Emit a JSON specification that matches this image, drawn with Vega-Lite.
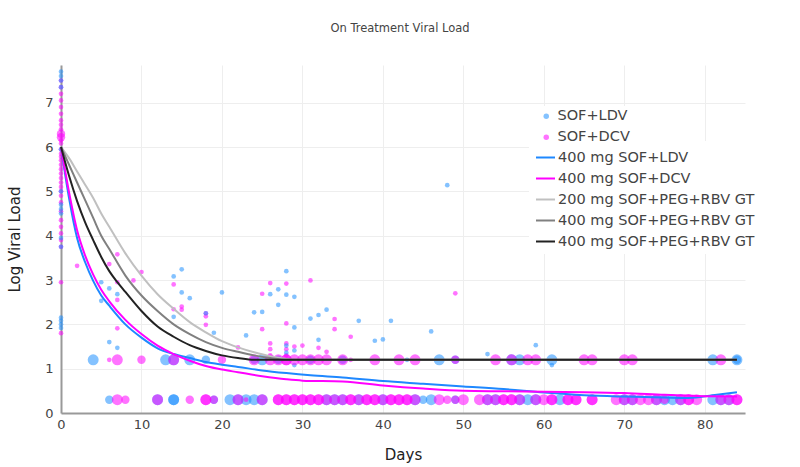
{
  "$schema": "https://vega.github.io/schema/vega-lite/v6.json",
  "width": 684,
  "height": 348,
  "autosize": {"type": "none"},
  "padding": {"left": 61, "top": 65, "right": 55, "bottom": 54},
  "background": "white",
  "title": {"text": "On Treatment Viral Load", "fontSize": 11.5, "fontWeight": "normal", "color": "#444", "font": "DejaVu Sans", "anchor": "middle", "offset": 31, "dx": -3},
  "config": {
    "view": {"stroke": null},
    "font": "DejaVu Sans",
    "axis": {"gridColor": "#eeeeee", "gridWidth": 1, "domainColor": "#999999", "domainWidth": 2, "ticks": false, "labelFlush": false, "labelFont": "DejaVu Sans", "labelFontSize": 13, "labelColor": "#444", "titleFont": "DejaVu Sans", "titleFontSize": 15, "titleFontWeight": "normal", "titleColor": "#222"},
    "legend": {"labelFont": "DejaVu Sans", "labelFontSize": 14.5, "labelColor": "#444"}
  },
  "datasets": {
    "pts": [
      {"g":"SOF+DCV","d":0,"v":7.5,"n":1},{"g":"SOF+DCV","d":0,"v":7.35,"n":1},{"g":"SOF+DCV","d":0,"v":7.2,"n":1},{"g":"SOF+DCV","d":0,"v":7.05,"n":1},{"g":"SOF+DCV","d":0,"v":6.9,"n":1},{"g":"SOF+DCV","d":0,"v":6.75,"n":1},{"g":"SOF+DCV","d":0,"v":6.6,"n":1},{"g":"SOF+DCV","d":0,"v":6.5,"n":1},{"g":"SOF+DCV","d":0,"v":6.4,"n":1},{"g":"SOF+DCV","d":0,"v":6.3,"n":2},{"g":"SOF+DCV","d":0,"v":6.22,"n":2},{"g":"SOF+DCV","d":0,"v":6.15,"n":1},{"g":"SOF+DCV","d":0,"v":6.08,"n":1},{"g":"SOF+DCV","d":0,"v":5.95,"n":1},{"g":"SOF+DCV","d":0,"v":5.85,"n":1},{"g":"SOF+DCV","d":0,"v":5.78,"n":1},{"g":"SOF+DCV","d":0,"v":5.7,"n":1},{"g":"SOF+DCV","d":0,"v":5.6,"n":1},{"g":"SOF+DCV","d":0,"v":5.5,"n":1},{"g":"SOF+DCV","d":0,"v":5.4,"n":1},{"g":"SOF+DCV","d":0,"v":5.3,"n":1},{"g":"SOF+DCV","d":0,"v":5.2,"n":1},{"g":"SOF+DCV","d":0,"v":5.1,"n":1},{"g":"SOF+DCV","d":0,"v":5.0,"n":1},{"g":"SOF+DCV","d":0,"v":4.9,"n":1},{"g":"SOF+DCV","d":0,"v":4.75,"n":1},{"g":"SOF+DCV","d":0,"v":4.55,"n":1},{"g":"SOF+DCV","d":0,"v":4.35,"n":1},{"g":"SOF+DCV","d":0,"v":4.2,"n":1},{"g":"SOF+DCV","d":0,"v":4.05,"n":1},{"g":"SOF+DCV","d":0,"v":3.9,"n":1},{"g":"SOF+DCV","d":0,"v":3.75,"n":1},{"g":"SOF+DCV","d":0,"v":2.95,"n":1},{"g":"SOF+DCV","d":0,"v":1.8,"n":1},
      {"g":"SOF+LDV","d":0,"v":7.7,"n":1},{"g":"SOF+LDV","d":0,"v":7.6,"n":1},{"g":"SOF+LDV","d":0,"v":7.5,"n":1},{"g":"SOF+LDV","d":0,"v":7.35,"n":1},{"g":"SOF+LDV","d":0,"v":5.95,"n":1},{"g":"SOF+LDV","d":0,"v":5.0,"n":1},{"g":"SOF+LDV","d":0,"v":4.7,"n":1},{"g":"SOF+LDV","d":0,"v":4.6,"n":1},{"g":"SOF+LDV","d":0,"v":4.5,"n":1},{"g":"SOF+LDV","d":0,"v":3.95,"n":1},{"g":"SOF+LDV","d":0,"v":3.75,"n":1},{"g":"SOF+LDV","d":0,"v":2.15,"n":1},{"g":"SOF+LDV","d":0,"v":2.08,"n":1},{"g":"SOF+LDV","d":0,"v":2.0,"n":1},{"g":"SOF+LDV","d":0,"v":1.92,"n":1},
      {"g":"SOF+DCV","d":2,"v":3.32,"n":1},{"g":"SOF+DCV","d":6,"v":3.36,"n":1},{"g":"SOF+DCV","d":7,"v":3.58,"n":1},{"g":"SOF+DCV","d":7,"v":2.95,"n":1},{"g":"SOF+DCV","d":7,"v":2.55,"n":1},{"g":"SOF+DCV","d":7,"v":1.91,"n":1},{"g":"SOF+DCV","d":9,"v":2.99,"n":1},{"g":"SOF+DCV","d":10,"v":3.18,"n":1},{"g":"SOF+DCV","d":14,"v":2.9,"n":1},{"g":"SOF+DCV","d":14,"v":2.34,"n":1},{"g":"SOF+DCV","d":15,"v":2.4,"n":1},{"g":"SOF+DCV","d":15,"v":2.33,"n":1},{"g":"SOF+DCV","d":18,"v":2.25,"n":1},{"g":"SOF+DCV","d":18,"v":2.18,"n":1},{"g":"SOF+DCV","d":18,"v":1.99,"n":1},{"g":"SOF+DCV","d":22,"v":1.48,"n":1},{"g":"SOF+DCV","d":25,"v":2.69,"n":1},{"g":"SOF+DCV","d":25,"v":1.89,"n":1},{"g":"SOF+DCV","d":26,"v":2.93,"n":1},{"g":"SOF+DCV","d":26,"v":1.57,"n":1},{"g":"SOF+DCV","d":26,"v":1.44,"n":1},{"g":"SOF+DCV","d":26,"v":1.3,"n":1},{"g":"SOF+DCV","d":28,"v":2.92,"n":1},{"g":"SOF+DCV","d":28,"v":2.02,"n":1},{"g":"SOF+DCV","d":28,"v":1.57,"n":1},{"g":"SOF+DCV","d":28,"v":1.44,"n":1},{"g":"SOF+DCV","d":28,"v":1.3,"n":1},{"g":"SOF+DCV","d":29,"v":1.5,"n":1},{"g":"SOF+DCV","d":30,"v":1.52,"n":1},{"g":"SOF+DCV","d":31,"v":2.99,"n":1},{"g":"SOF+DCV","d":32,"v":1.47,"n":1},{"g":"SOF+DCV","d":33,"v":1.38,"n":1},{"g":"SOF+DCV","d":34,"v":2.12,"n":1},{"g":"SOF+DCV","d":34,"v":1.89,"n":1},{"g":"SOF+DCV","d":36,"v":1.72,"n":1},{"g":"SOF+DCV","d":49,"v":2.7,"n":1},
      {"g":"SOF+LDV","d":5,"v":2.95,"n":1},{"g":"SOF+LDV","d":5,"v":2.53,"n":1},{"g":"SOF+LDV","d":6,"v":2.81,"n":1},{"g":"SOF+LDV","d":6,"v":1.6,"n":1},{"g":"SOF+LDV","d":7,"v":2.68,"n":1},{"g":"SOF+LDV","d":7,"v":1.47,"n":1},{"g":"SOF+LDV","d":14,"v":3.08,"n":1},{"g":"SOF+LDV","d":14,"v":2.17,"n":1},{"g":"SOF+LDV","d":15,"v":3.24,"n":1},{"g":"SOF+LDV","d":15,"v":2.72,"n":1},{"g":"SOF+LDV","d":16,"v":2.59,"n":1},{"g":"SOF+LDV","d":18,"v":2.25,"n":1},{"g":"SOF+LDV","d":19,"v":1.81,"n":1},{"g":"SOF+LDV","d":20,"v":2.72,"n":1},{"g":"SOF+LDV","d":23,"v":1.75,"n":1},{"g":"SOF+LDV","d":24,"v":2.27,"n":1},{"g":"SOF+LDV","d":25,"v":2.28,"n":1},{"g":"SOF+LDV","d":26,"v":2.68,"n":1},{"g":"SOF+LDV","d":27,"v":2.79,"n":1},{"g":"SOF+LDV","d":27,"v":2.44,"n":1},{"g":"SOF+LDV","d":28,"v":3.2,"n":1},{"g":"SOF+LDV","d":28,"v":2.67,"n":1},{"g":"SOF+LDV","d":28,"v":1.52,"n":1},{"g":"SOF+LDV","d":28,"v":1.36,"n":1},{"g":"SOF+LDV","d":29,"v":2.62,"n":1},{"g":"SOF+LDV","d":29,"v":1.93,"n":1},{"g":"SOF+LDV","d":29,"v":1.41,"n":1},{"g":"SOF+LDV","d":29,"v":1.08,"n":1},{"g":"SOF+LDV","d":31,"v":2.13,"n":1},{"g":"SOF+LDV","d":32,"v":2.21,"n":1},{"g":"SOF+LDV","d":32,"v":1.65,"n":1},{"g":"SOF+LDV","d":33,"v":2.33,"n":1},{"g":"SOF+LDV","d":37,"v":2.08,"n":1},{"g":"SOF+LDV","d":39,"v":1.63,"n":1},{"g":"SOF+LDV","d":40,"v":1.66,"n":1},{"g":"SOF+LDV","d":41,"v":2.08,"n":1},{"g":"SOF+LDV","d":46,"v":1.84,"n":1},{"g":"SOF+LDV","d":48,"v":5.14,"n":1},{"g":"SOF+LDV","d":53,"v":1.33,"n":1},{"g":"SOF+LDV","d":59,"v":1.53,"n":1},{"g":"SOF+LDV","d":61,"v":1.08,"n":1},
      {"g":"SOF+LDV","d":4,"v":1.2,"n":3},{"g":"SOF+LDV","d":13,"v":1.2,"n":3},{"g":"SOF+LDV","d":14,"v":1.2,"n":3},{"g":"SOF+LDV","d":16,"v":1.2,"n":3},{"g":"SOF+LDV","d":18,"v":1.2,"n":2},{"g":"SOF+LDV","d":24,"v":1.2,"n":2},{"g":"SOF+LDV","d":25,"v":1.2,"n":3},{"g":"SOF+LDV","d":27,"v":1.2,"n":2},{"g":"SOF+LDV","d":31,"v":1.2,"n":2},{"g":"SOF+LDV","d":35,"v":1.2,"n":2},{"g":"SOF+LDV","d":43,"v":1.2,"n":1},{"g":"SOF+LDV","d":47,"v":1.2,"n":3},{"g":"SOF+LDV","d":49,"v":1.2,"n":2},{"g":"SOF+LDV","d":56,"v":1.2,"n":3},{"g":"SOF+LDV","d":57,"v":1.2,"n":3},{"g":"SOF+LDV","d":61,"v":1.2,"n":3},{"g":"SOF+LDV","d":81,"v":1.2,"n":3},{"g":"SOF+LDV","d":84,"v":1.2,"n":3},{"g":"SOF+LDV","d":84,"v":1.2,"n":2},
      {"g":"SOF+DCV","d":6,"v":1.2,"n":1},{"g":"SOF+DCV","d":7,"v":1.2,"n":3},{"g":"SOF+DCV","d":10,"v":1.2,"n":2},{"g":"SOF+DCV","d":14,"v":1.2,"n":3},{"g":"SOF+DCV","d":20,"v":1.2,"n":2},{"g":"SOF+DCV","d":24,"v":1.2,"n":3},{"g":"SOF+DCV","d":26,"v":1.2,"n":3},{"g":"SOF+DCV","d":27,"v":1.2,"n":3},{"g":"SOF+DCV","d":28,"v":1.2,"n":3},{"g":"SOF+DCV","d":28,"v":1.2,"n":3},{"g":"SOF+DCV","d":29,"v":1.2,"n":3},{"g":"SOF+DCV","d":30,"v":1.2,"n":3},{"g":"SOF+DCV","d":31,"v":1.2,"n":3},{"g":"SOF+DCV","d":32,"v":1.2,"n":3},{"g":"SOF+DCV","d":33,"v":1.2,"n":3},{"g":"SOF+DCV","d":35,"v":1.2,"n":3},{"g":"SOF+DCV","d":36,"v":1.2,"n":1},{"g":"SOF+DCV","d":39,"v":1.2,"n":3},{"g":"SOF+DCV","d":42,"v":1.2,"n":3},{"g":"SOF+DCV","d":44,"v":1.2,"n":3},{"g":"SOF+DCV","d":49,"v":1.2,"n":2},{"g":"SOF+DCV","d":54,"v":1.2,"n":3},{"g":"SOF+DCV","d":56,"v":1.2,"n":3},{"g":"SOF+DCV","d":58,"v":1.2,"n":3},{"g":"SOF+DCV","d":59,"v":1.2,"n":3},{"g":"SOF+DCV","d":65,"v":1.2,"n":3},{"g":"SOF+DCV","d":66,"v":1.2,"n":3},{"g":"SOF+DCV","d":70,"v":1.2,"n":3},{"g":"SOF+DCV","d":71,"v":1.2,"n":3},{"g":"SOF+DCV","d":82,"v":1.2,"n":3},
      {"g":"SOF+LDV","d":6,"v":0.3,"n":2},{"g":"SOF+LDV","d":12,"v":0.3,"n":3},{"g":"SOF+LDV","d":14,"v":0.3,"n":3},{"g":"SOF+LDV","d":14,"v":0.3,"n":3},{"g":"SOF+LDV","d":19,"v":0.3,"n":2},{"g":"SOF+LDV","d":21,"v":0.3,"n":3},{"g":"SOF+LDV","d":22,"v":0.3,"n":3},{"g":"SOF+LDV","d":23,"v":0.3,"n":3},{"g":"SOF+LDV","d":24,"v":0.3,"n":3},{"g":"SOF+LDV","d":25,"v":0.3,"n":3},{"g":"SOF+LDV","d":33,"v":0.3,"n":3},{"g":"SOF+LDV","d":34,"v":0.3,"n":3},{"g":"SOF+LDV","d":35,"v":0.3,"n":3},{"g":"SOF+LDV","d":37,"v":0.3,"n":3},{"g":"SOF+LDV","d":40,"v":0.3,"n":3},{"g":"SOF+LDV","d":44,"v":0.3,"n":3},{"g":"SOF+LDV","d":45,"v":0.3,"n":2},{"g":"SOF+LDV","d":46,"v":0.3,"n":3},{"g":"SOF+LDV","d":49,"v":0.3,"n":2},{"g":"SOF+LDV","d":53,"v":0.3,"n":3},{"g":"SOF+LDV","d":54,"v":0.3,"n":3},{"g":"SOF+LDV","d":57,"v":0.3,"n":3},{"g":"SOF+LDV","d":58,"v":0.3,"n":3},{"g":"SOF+LDV","d":59,"v":0.3,"n":3},{"g":"SOF+LDV","d":62,"v":0.3,"n":3},{"g":"SOF+LDV","d":70,"v":0.3,"n":3},{"g":"SOF+LDV","d":71,"v":0.3,"n":3},{"g":"SOF+LDV","d":74,"v":0.3,"n":3},{"g":"SOF+LDV","d":75,"v":0.3,"n":3},{"g":"SOF+LDV","d":76,"v":0.3,"n":3},{"g":"SOF+LDV","d":77,"v":0.3,"n":3},{"g":"SOF+LDV","d":81,"v":0.3,"n":3},{"g":"SOF+LDV","d":82,"v":0.3,"n":3},{"g":"SOF+LDV","d":83,"v":0.3,"n":3},
      {"g":"SOF+DCV","d":7,"v":0.3,"n":3},{"g":"SOF+DCV","d":8,"v":0.3,"n":2},{"g":"SOF+DCV","d":12,"v":0.3,"n":3},{"g":"SOF+DCV","d":16,"v":0.3,"n":2},{"g":"SOF+DCV","d":18,"v":0.3,"n":3},{"g":"SOF+DCV","d":18,"v":0.3,"n":3},{"g":"SOF+DCV","d":19,"v":0.3,"n":2},{"g":"SOF+DCV","d":22,"v":0.3,"n":3},{"g":"SOF+DCV","d":23,"v":0.3,"n":1},{"g":"SOF+DCV","d":25,"v":0.3,"n":3},{"g":"SOF+DCV","d":27,"v":0.3,"n":3},{"g":"SOF+DCV","d":27,"v":0.3,"n":3},{"g":"SOF+DCV","d":28,"v":0.3,"n":3},{"g":"SOF+DCV","d":28,"v":0.3,"n":3},{"g":"SOF+DCV","d":29,"v":0.3,"n":3},{"g":"SOF+DCV","d":29,"v":0.3,"n":3},{"g":"SOF+DCV","d":30,"v":0.3,"n":3},{"g":"SOF+DCV","d":30,"v":0.3,"n":3},{"g":"SOF+DCV","d":31,"v":0.3,"n":3},{"g":"SOF+DCV","d":31,"v":0.3,"n":3},{"g":"SOF+DCV","d":32,"v":0.3,"n":3},{"g":"SOF+DCV","d":32,"v":0.3,"n":3},{"g":"SOF+DCV","d":33,"v":0.3,"n":3},{"g":"SOF+DCV","d":34,"v":0.3,"n":3},{"g":"SOF+DCV","d":35,"v":0.3,"n":3},{"g":"SOF+DCV","d":36,"v":0.3,"n":3},{"g":"SOF+DCV","d":36,"v":0.3,"n":3},{"g":"SOF+DCV","d":37,"v":0.3,"n":3},{"g":"SOF+DCV","d":38,"v":0.3,"n":3},{"g":"SOF+DCV","d":38,"v":0.3,"n":3},{"g":"SOF+DCV","d":39,"v":0.3,"n":3},{"g":"SOF+DCV","d":39,"v":0.3,"n":3},{"g":"SOF+DCV","d":40,"v":0.3,"n":3},{"g":"SOF+DCV","d":41,"v":0.3,"n":3},{"g":"SOF+DCV","d":41,"v":0.3,"n":3},{"g":"SOF+DCV","d":42,"v":0.3,"n":3},{"g":"SOF+DCV","d":42,"v":0.3,"n":3},{"g":"SOF+DCV","d":43,"v":0.3,"n":3},{"g":"SOF+DCV","d":43,"v":0.3,"n":3},{"g":"SOF+DCV","d":44,"v":0.3,"n":3},{"g":"SOF+DCV","d":47,"v":0.3,"n":3},{"g":"SOF+DCV","d":48,"v":0.3,"n":2},{"g":"SOF+DCV","d":49,"v":0.3,"n":2},{"g":"SOF+DCV","d":50,"v":0.3,"n":3},{"g":"SOF+DCV","d":52,"v":0.3,"n":3},{"g":"SOF+DCV","d":53,"v":0.3,"n":3},{"g":"SOF+DCV","d":54,"v":0.3,"n":3},{"g":"SOF+DCV","d":55,"v":0.3,"n":3},{"g":"SOF+DCV","d":55,"v":0.3,"n":3},{"g":"SOF+DCV","d":56,"v":0.3,"n":3},{"g":"SOF+DCV","d":56,"v":0.3,"n":3},{"g":"SOF+DCV","d":57,"v":0.3,"n":3},{"g":"SOF+DCV","d":59,"v":0.3,"n":3},{"g":"SOF+DCV","d":60,"v":0.3,"n":3},{"g":"SOF+DCV","d":61,"v":0.3,"n":3},{"g":"SOF+DCV","d":61,"v":0.3,"n":3},{"g":"SOF+DCV","d":63,"v":0.3,"n":3},{"g":"SOF+DCV","d":63,"v":0.3,"n":3},{"g":"SOF+DCV","d":64,"v":0.3,"n":3},{"g":"SOF+DCV","d":64,"v":0.3,"n":3},{"g":"SOF+DCV","d":66,"v":0.3,"n":3},{"g":"SOF+DCV","d":66,"v":0.3,"n":3},{"g":"SOF+DCV","d":69,"v":0.3,"n":3},{"g":"SOF+DCV","d":70,"v":0.3,"n":3},{"g":"SOF+DCV","d":71,"v":0.3,"n":3},{"g":"SOF+DCV","d":72,"v":0.3,"n":3},{"g":"SOF+DCV","d":73,"v":0.3,"n":3},{"g":"SOF+DCV","d":74,"v":0.3,"n":3},{"g":"SOF+DCV","d":75,"v":0.3,"n":2},{"g":"SOF+DCV","d":77,"v":0.3,"n":3},{"g":"SOF+DCV","d":78,"v":0.3,"n":3},{"g":"SOF+DCV","d":78,"v":0.3,"n":3},{"g":"SOF+DCV","d":79,"v":0.3,"n":3},{"g":"SOF+DCV","d":82,"v":0.3,"n":3},{"g":"SOF+DCV","d":83,"v":0.3,"n":3},{"g":"SOF+DCV","d":84,"v":0.3,"n":3},{"g":"SOF+DCV","d":84,"v":0.3,"n":3}
    ],
    "lines": [
      {"s":"400 mg SOF+LDV","d":0,"v":6.0},{"s":"400 mg SOF+LDV","d":1,"v":4.85},{"s":"400 mg SOF+LDV","d":2,"v":3.95},{"s":"400 mg SOF+LDV","d":3,"v":3.4},{"s":"400 mg SOF+LDV","d":4,"v":2.98},{"s":"400 mg SOF+LDV","d":5,"v":2.65},{"s":"400 mg SOF+LDV","d":6,"v":2.42},{"s":"400 mg SOF+LDV","d":8,"v":2.0},{"s":"400 mg SOF+LDV","d":10,"v":1.7},{"s":"400 mg SOF+LDV","d":12,"v":1.46},{"s":"400 mg SOF+LDV","d":14,"v":1.33},{"s":"400 mg SOF+LDV","d":16,"v":1.24},{"s":"400 mg SOF+LDV","d":18,"v":1.15},{"s":"400 mg SOF+LDV","d":20,"v":1.09},{"s":"400 mg SOF+LDV","d":22,"v":1.04},{"s":"400 mg SOF+LDV","d":25,"v":0.96},{"s":"400 mg SOF+LDV","d":28,"v":0.9},{"s":"400 mg SOF+LDV","d":31,"v":0.85},{"s":"400 mg SOF+LDV","d":35,"v":0.8},{"s":"400 mg SOF+LDV","d":40,"v":0.72},{"s":"400 mg SOF+LDV","d":45,"v":0.66},{"s":"400 mg SOF+LDV","d":50,"v":0.6},{"s":"400 mg SOF+LDV","d":55,"v":0.54},{"s":"400 mg SOF+LDV","d":60,"v":0.46},{"s":"400 mg SOF+LDV","d":65,"v":0.4},{"s":"400 mg SOF+LDV","d":70,"v":0.37},{"s":"400 mg SOF+LDV","d":75,"v":0.35},{"s":"400 mg SOF+LDV","d":78,"v":0.34},{"s":"400 mg SOF+LDV","d":81,"v":0.4},{"s":"400 mg SOF+LDV","d":84,"v":0.47},
      {"s":"400 mg SOF+DCV","d":0,"v":6.0},{"s":"400 mg SOF+DCV","d":1,"v":4.98},{"s":"400 mg SOF+DCV","d":2,"v":4.12},{"s":"400 mg SOF+DCV","d":3,"v":3.55},{"s":"400 mg SOF+DCV","d":4,"v":3.12},{"s":"400 mg SOF+DCV","d":5,"v":2.78},{"s":"400 mg SOF+DCV","d":6,"v":2.52},{"s":"400 mg SOF+DCV","d":8,"v":2.1},{"s":"400 mg SOF+DCV","d":10,"v":1.78},{"s":"400 mg SOF+DCV","d":12,"v":1.52},{"s":"400 mg SOF+DCV","d":14,"v":1.33},{"s":"400 mg SOF+DCV","d":16,"v":1.18},{"s":"400 mg SOF+DCV","d":18,"v":1.06},{"s":"400 mg SOF+DCV","d":20,"v":0.98},{"s":"400 mg SOF+DCV","d":22,"v":0.92},{"s":"400 mg SOF+DCV","d":25,"v":0.83},{"s":"400 mg SOF+DCV","d":28,"v":0.76},{"s":"400 mg SOF+DCV","d":30,"v":0.73},{"s":"400 mg SOF+DCV","d":35,"v":0.71},{"s":"400 mg SOF+DCV","d":40,"v":0.62},{"s":"400 mg SOF+DCV","d":45,"v":0.55},{"s":"400 mg SOF+DCV","d":50,"v":0.5},{"s":"400 mg SOF+DCV","d":55,"v":0.49},{"s":"400 mg SOF+DCV","d":60,"v":0.48},{"s":"400 mg SOF+DCV","d":65,"v":0.47},{"s":"400 mg SOF+DCV","d":70,"v":0.45},{"s":"400 mg SOF+DCV","d":75,"v":0.41},{"s":"400 mg SOF+DCV","d":80,"v":0.38},{"s":"400 mg SOF+DCV","d":84,"v":0.37},
      {"s":"200 mg SOF+PEG+RBV GT1","d":0,"v":6.0},{"s":"200 mg SOF+PEG+RBV GT1","d":1,"v":5.75},{"s":"200 mg SOF+PEG+RBV GT1","d":2,"v":5.45},{"s":"200 mg SOF+PEG+RBV GT1","d":3,"v":5.15},{"s":"200 mg SOF+PEG+RBV GT1","d":4,"v":4.85},{"s":"200 mg SOF+PEG+RBV GT1","d":5,"v":4.5},{"s":"200 mg SOF+PEG+RBV GT1","d":6,"v":4.2},{"s":"200 mg SOF+PEG+RBV GT1","d":8,"v":3.6},{"s":"200 mg SOF+PEG+RBV GT1","d":10,"v":3.1},{"s":"200 mg SOF+PEG+RBV GT1","d":12,"v":2.68},{"s":"200 mg SOF+PEG+RBV GT1","d":14,"v":2.35},{"s":"200 mg SOF+PEG+RBV GT1","d":16,"v":2.05},{"s":"200 mg SOF+PEG+RBV GT1","d":18,"v":1.82},{"s":"200 mg SOF+PEG+RBV GT1","d":20,"v":1.62},{"s":"200 mg SOF+PEG+RBV GT1","d":22,"v":1.48},{"s":"200 mg SOF+PEG+RBV GT1","d":24,"v":1.37},{"s":"200 mg SOF+PEG+RBV GT1","d":26,"v":1.28},{"s":"200 mg SOF+PEG+RBV GT1","d":28,"v":1.22},{"s":"200 mg SOF+PEG+RBV GT1","d":29,"v":1.2},{"s":"200 mg SOF+PEG+RBV GT1","d":40,"v":1.2},{"s":"200 mg SOF+PEG+RBV GT1","d":60,"v":1.2},{"s":"200 mg SOF+PEG+RBV GT1","d":84,"v":1.2},
      {"s":"400 mg SOF+PEG+RBV GT1","d":0,"v":6.0},{"s":"400 mg SOF+PEG+RBV GT1","d":1,"v":5.6},{"s":"400 mg SOF+PEG+RBV GT1","d":2,"v":5.2},{"s":"400 mg SOF+PEG+RBV GT1","d":3,"v":4.8},{"s":"400 mg SOF+PEG+RBV GT1","d":4,"v":4.4},{"s":"400 mg SOF+PEG+RBV GT1","d":5,"v":4.0},{"s":"400 mg SOF+PEG+RBV GT1","d":6,"v":3.7},{"s":"400 mg SOF+PEG+RBV GT1","d":8,"v":3.1},{"s":"400 mg SOF+PEG+RBV GT1","d":10,"v":2.65},{"s":"400 mg SOF+PEG+RBV GT1","d":12,"v":2.3},{"s":"400 mg SOF+PEG+RBV GT1","d":14,"v":2.0},{"s":"400 mg SOF+PEG+RBV GT1","d":16,"v":1.78},{"s":"400 mg SOF+PEG+RBV GT1","d":18,"v":1.6},{"s":"400 mg SOF+PEG+RBV GT1","d":20,"v":1.47},{"s":"400 mg SOF+PEG+RBV GT1","d":22,"v":1.38},{"s":"400 mg SOF+PEG+RBV GT1","d":24,"v":1.3},{"s":"400 mg SOF+PEG+RBV GT1","d":26,"v":1.24},{"s":"400 mg SOF+PEG+RBV GT1","d":28,"v":1.2},{"s":"400 mg SOF+PEG+RBV GT1","d":40,"v":1.2},{"s":"400 mg SOF+PEG+RBV GT1","d":60,"v":1.2},{"s":"400 mg SOF+PEG+RBV GT1","d":84,"v":1.2},
      {"s":"400 mg SOF+PEG+RBV GT2/3","d":0,"v":6.0},{"s":"400 mg SOF+PEG+RBV GT2/3","d":1,"v":5.35},{"s":"400 mg SOF+PEG+RBV GT2/3","d":2,"v":4.78},{"s":"400 mg SOF+PEG+RBV GT2/3","d":3,"v":4.3},{"s":"400 mg SOF+PEG+RBV GT2/3","d":4,"v":3.9},{"s":"400 mg SOF+PEG+RBV GT2/3","d":5,"v":3.52},{"s":"400 mg SOF+PEG+RBV GT2/3","d":6,"v":3.2},{"s":"400 mg SOF+PEG+RBV GT2/3","d":7,"v":2.95},{"s":"400 mg SOF+PEG+RBV GT2/3","d":8,"v":2.73},{"s":"400 mg SOF+PEG+RBV GT2/3","d":10,"v":2.3},{"s":"400 mg SOF+PEG+RBV GT2/3","d":12,"v":1.95},{"s":"400 mg SOF+PEG+RBV GT2/3","d":14,"v":1.72},{"s":"400 mg SOF+PEG+RBV GT2/3","d":16,"v":1.53},{"s":"400 mg SOF+PEG+RBV GT2/3","d":18,"v":1.4},{"s":"400 mg SOF+PEG+RBV GT2/3","d":20,"v":1.3},{"s":"400 mg SOF+PEG+RBV GT2/3","d":22,"v":1.24},{"s":"400 mg SOF+PEG+RBV GT2/3","d":24,"v":1.2},{"s":"400 mg SOF+PEG+RBV GT2/3","d":40,"v":1.2},{"s":"400 mg SOF+PEG+RBV GT2/3","d":60,"v":1.2},{"s":"400 mg SOF+PEG+RBV GT2/3","d":84,"v":1.2}
    ]
  },
  "encoding": {
    "x": {"field": "d", "type": "quantitative", "scale": {"domain": [0, 85], "nice": false, "zero": false}, "axis": {"title": "Days", "values": [0,10,20,30,40,50,60,70,80], "titlePadding": 16, "labelPadding": 5}},
    "y": {"field": "v", "type": "quantitative", "scale": {"domain": [0, 7.85], "nice": false}, "axis": {"title": "Log Viral Load", "values": [0,1,2,3,4,5,6,7], "titlePadding": 22, "labelPadding": 8}}
  },
  "layer": [
    {
      "data": {"name": "pts"},
      "mark": {"type": "circle", "opacity": 0.55, "clip": false},
      "encoding": {
        "color": {"field": "g", "type": "nominal", "scale": {"domain": ["SOF+LDV", "SOF+DCV"], "range": ["#1f8fff", "#ff00ff"]},
          "legend": {"title": null, "orient": "none", "legendX": 475, "legendY": 41, "padding": 3, "zindex": 2, "fillColor": "white", "symbolType": "circle", "symbolSize": 30, "symbolOpacity": 0.55, "labelOffset": 4, "rowPadding": 6}},
        "size": {"field": "n", "type": "quantitative", "scale": {"domain": [1, 3], "range": [22, 120]}, "legend": null}
      }
    },
    {
      "data": {"name": "lines"},
      "mark": {"type": "line", "strokeWidth": 2, "interpolate": "monotone"},
      "encoding": {
        "stroke": {"field": "s", "type": "nominal", "scale": {"domain": ["400 mg SOF+LDV", "400 mg SOF+DCV", "200 mg SOF+PEG+RBV GT1", "400 mg SOF+PEG+RBV GT1", "400 mg SOF+PEG+RBV GT2/3"], "range": ["#1e88ff", "#ff00ff", "#c0c0c0", "#808080", "#222222"]},
          "legend": {"title": null, "orient": "none", "legendX": 468, "legendY": 76, "padding": 6, "zindex": 1, "fillColor": "white", "symbolType": "stroke", "symbolSize": 361, "symbolStrokeWidth": 2, "labelOffset": 2, "rowPadding": 4, "labelLimit": 300, "labelExpr": "slice(datum.label, 0, 21)"}}
      }
    }
  ]
}
